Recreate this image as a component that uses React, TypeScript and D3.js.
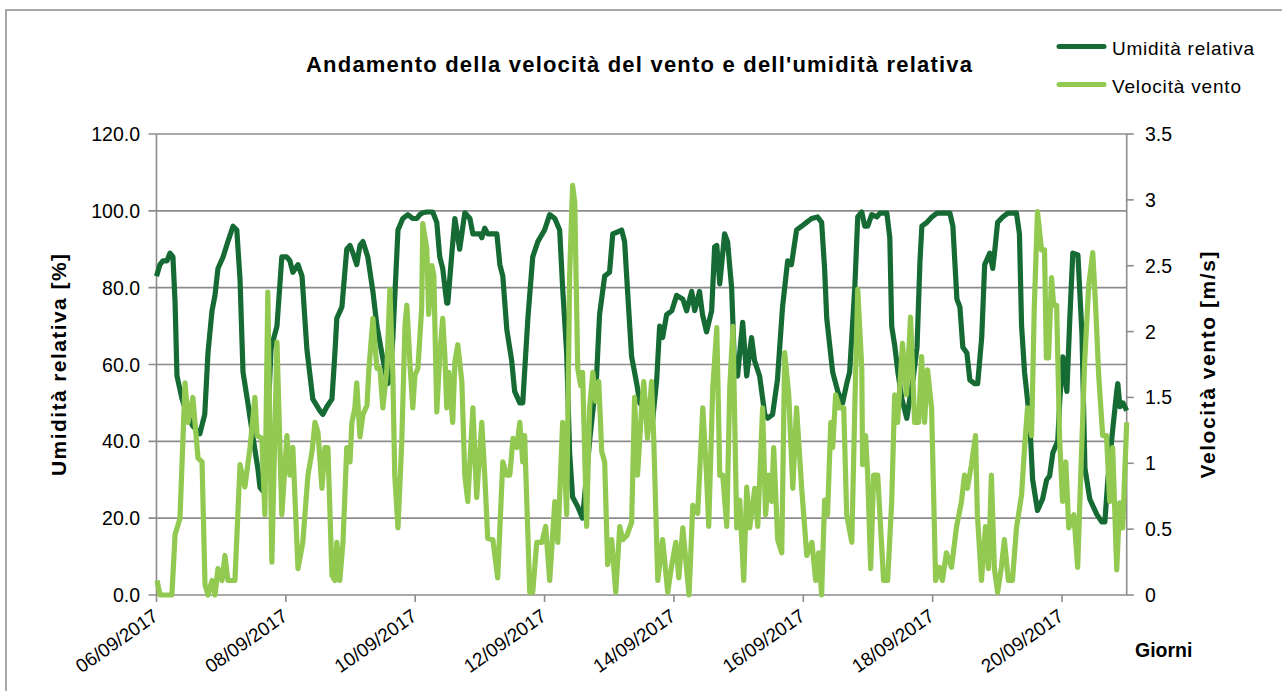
import React from 'react'
import * as d3 from 'd3'

// hours from 06/09/2017 00:00, value
const humidity: [number, number][] = [
  [0, 83], [1.3, 86], [2.4, 87], [3.9, 87], [5, 89], [6.1, 88], [6.9, 76], [7.6, 57], [9.5, 51], [11.3, 47],
  [13.5, 44], [16.1, 42], [17.9, 47], [19.1, 63], [20.6, 74], [21.7, 78], [22.8, 85], [24.7, 88], [26.5, 92], [28.4, 96],
  [29.8, 95], [31, 82], [32.1, 58], [33.9, 50], [35.8, 41], [37.6, 33], [38.4, 28], [39.5, 27], [41.3, 45], [42.5, 64],
  [43.2, 66], [44.7, 70], [46.5, 88], [48.3, 88], [49.5, 87], [50.6, 84], [52.5, 86], [54, 83], [55.8, 64], [58, 51],
  [60.6, 48], [61.7, 47], [63.2, 49], [65.1, 51], [66.2, 63], [66.9, 72], [68.8, 75], [70.6, 90], [71.8, 91], [72.9, 89],
  [74.3, 86], [75.5, 91], [76.6, 92], [78.4, 88], [80.3, 79], [81.8, 70], [83.6, 63], [84.7, 59], [85.8, 55], [86.6, 56],
  [87.7, 67], [89.6, 95], [91.4, 98], [93.3, 99], [95.1, 98], [96.6, 98], [97.7, 99], [98.8, 99.5], [100.3, 99.7], [102.5, 99.7],
  [104, 97], [105.1, 88], [106.2, 85], [107.7, 76], [108.1, 76], [109.6, 89], [110.7, 98], [112.5, 90], [114.4, 99.5], [116.3, 98],
  [117.4, 94], [120, 94], [120.7, 93], [121.8, 95.5], [122.9, 94], [126.3, 94], [127.4, 86], [128.5, 83], [130, 69], [131.8, 61],
  [132.9, 53], [134.8, 50], [135.9, 50], [137.8, 72], [139.6, 88], [141.5, 92], [144, 95], [145.9, 99], [147.8, 98], [149.6, 95],
  [150.7, 80], [152.2, 63], [153.3, 37], [154.4, 25.5], [156.3, 23], [158.1, 20], [160.7, 40], [163.3, 57], [164.4, 73], [166.3, 83],
  [168.1, 84], [169.3, 94], [171.1, 94.5], [172.6, 95], [173.7, 92], [174.8, 79], [176.3, 62], [178.2, 55], [179.3, 50], [184.1, 45.5],
  [185.6, 56], [186.7, 70], [187.8, 67], [189.3, 73], [191.2, 74], [193, 78], [195.3, 77], [196.7, 74], [198.6, 79], [199.7, 74],
  [201.5, 79], [202.6, 73], [204.1, 68.5], [206, 74], [207.1, 90.6], [207.9, 91], [209, 81], [210.8, 94], [211.9, 92], [213.4, 80],
  [214.5, 59], [215.6, 57], [217.5, 71], [219, 57], [220.8, 67], [221.9, 61], [223.8, 57], [225.7, 47], [226.8, 46], [228.6, 47],
  [230.4, 56], [232.3, 75], [234.2, 87], [235.6, 86], [237.5, 95], [239.4, 96], [241.2, 97], [243.1, 98], [245.3, 98.4], [246.8, 97],
  [247.9, 85], [248.7, 72], [250.9, 58], [252.8, 53], [254.6, 50], [256.1, 55], [257.2, 58], [259.1, 80], [260.2, 98.4], [261.7, 99.7],
  [262.8, 96], [263.9, 96], [265.4, 99], [267.3, 98.4], [268.4, 99.4], [271, 99.4], [272.1, 93], [272.8, 70], [274, 64.5], [275.1, 58],
  [276.6, 51], [278.4, 46], [279.5, 51], [280.7, 56], [282.2, 64.5], [283.3, 87], [284, 96], [285.9, 97], [287.7, 98.4], [289.6, 99.4],
  [294.4, 99.4], [295.5, 96], [297, 77], [298.1, 75], [299.2, 64.5], [300.7, 63], [301.8, 56], [303.6, 55], [304.7, 55], [306.2, 67],
  [307.3, 86], [309.2, 89], [310.3, 85], [311.1, 90], [312.1, 97], [314, 98.4], [315.9, 99.4], [319.1, 99.4], [320.2, 94], [321, 70],
  [322.1, 58], [324, 45.5], [325.1, 30], [326.9, 22], [328.8, 25], [330.3, 30], [331.4, 31], [332.6, 37], [334.4, 40], [335.2, 51],
  [336.3, 62], [337.8, 53], [338.9, 72], [340, 89], [341.9, 88.5], [343.4, 68], [344.5, 33], [346.3, 25], [348.9, 21], [350.8, 19],
  [351.9, 19], [353, 30], [354.8, 43], [356.3, 53], [356.7, 55], [357.5, 49], [358.6, 50], [360, 48]
]

const wind: [number, number][] = [
  [0.2, 0.11], [1.3, 0], [5.7, 0], [6.9, 0.46], [8.7, 0.58], [10.6, 1.61], [11.7, 1.31], [13.5, 1.5], [15.4, 1.04], [16.9, 1.01],
  [18, 0.08], [19.1, 0], [20.6, 0.11], [21.7, 0], [22.8, 0.2], [24.3, 0.11], [25.4, 0.3], [26.5, 0.11], [29.1, 0.11], [31, 0.99],
  [32.8, 0.82], [34.7, 1.12], [36.5, 1.5], [37.3, 1.21], [39.1, 1.19], [40.2, 0.61], [41.3, 2.3], [42.8, 0.25], [44.7, 1.92], [46.5, 0.61],
  [48.4, 1.21], [49.5, 0.91], [50.6, 1.12], [52.5, 0.2], [54.3, 0.4], [56.2, 0.91], [57.7, 1.09], [58.8, 1.31], [59.9, 1.24], [61.4, 0.81],
  [62.5, 1.12], [63.6, 1.12], [65.1, 0.15], [66.2, 0.11], [66.9, 0.4], [68, 0.11], [69.2, 0.4], [70.6, 1.12], [71.8, 1.01], [72.5, 1.31],
  [73.6, 1.42], [74.3, 1.61], [75.5, 1.2], [76.6, 1.37], [78.1, 1.44], [78.8, 1.71], [80.3, 2.1], [81.8, 1.72], [82.9, 1.72], [84, 1.42],
  [85.5, 1.72], [86.6, 2.32], [87.7, 1.67], [88.4, 0.91], [89.6, 0.51], [91, 1.16], [92.2, 2.05], [92.9, 2.2], [94, 1.77], [95.1, 1.42],
  [95.9, 1.67], [97, 1.72], [98.4, 2.18], [98.8, 2.82], [100.3, 2.63], [101, 2.13], [102.2, 2.5], [102.9, 2.43], [104, 1.39], [105.1, 1.82],
  [106.2, 2.1], [107, 1.82], [107.7, 1.42], [108.5, 1.69], [109.9, 1.31], [110.7, 1.77], [111.8, 1.9], [113.3, 1.62], [114.4, 0.91], [115.5, 0.71],
  [117.4, 1.42], [118.8, 0.74], [120.7, 1.31], [121.8, 0.91], [122.9, 0.43], [124.8, 0.42], [126.6, 0.13], [128.5, 1.01], [130, 0.91], [131.1, 0.91],
  [132.3, 1.19], [133.7, 1.12], [134.8, 1.31], [135.9, 1.01], [136.6, 1.21], [138.5, 0.02], [139.6, 0.02], [141.1, 0.4], [143, 0.4], [144.4, 0.52],
  [145.9, 0.11], [147.8, 0.71], [148.9, 0.4], [150.7, 1.31], [152.2, 0.61], [153.3, 2.43], [154.4, 3.11], [155.2, 2.98], [156.3, 1.72], [157.4, 1.59],
  [158.1, 1.69], [159.6, 0.52], [160.7, 1.42], [161.9, 1.69], [163, 1.47], [164.1, 1.62], [165.2, 1.09], [166.3, 1.01], [167.4, 0.23], [168.9, 0.42],
  [170.4, 0.02], [171.9, 0.52], [173, 0.42], [174.5, 0.45], [176.3, 0.55], [177.4, 1.5], [178.5, 0.91], [180, 1.42], [180.8, 1.62], [182.2, 1.19],
  [183.7, 1.62], [184.5, 1.19], [186, 0.11], [187.8, 0.42], [189.7, 0.02], [191.2, 0.23], [192.7, 0.4], [193.8, 0.13], [195.3, 0.51], [197.6, 0],
  [199, 0.68], [200.8, 0.62], [202.7, 1.42], [204.1, 0.91], [204.9, 0.52], [206.4, 1.57], [207.9, 2.03], [209, 0.91], [210.1, 0.91], [211.6, 0.52],
  [212.7, 1.57], [213.9, 2.04], [215.3, 0.51], [216.4, 0.72], [217.9, 0.11], [219, 0.82], [220.1, 0.51], [222, 0.81], [223.1, 0.52], [224.9, 1.42],
  [226, 0.61], [227.1, 0.91], [228.3, 0.71], [229, 1.12], [230.5, 0.42], [232, 0.32], [233.1, 1.84], [234.6, 1.52], [236.1, 0.81], [237.5, 1.42],
  [239.4, 0.81], [241.3, 0.3], [243.2, 0.4], [244.6, 0.11], [245.7, 0.32], [246.8, 0], [247.9, 0.72], [249, 0.61], [250.2, 1.31], [250.9, 1.12],
  [252, 1.52], [253.5, 1.42], [255, 1.42], [256.1, 0.61], [258, 0.4], [259.1, 1.42], [260.2, 2.32], [261.7, 1.72], [262, 0.99], [263.1, 1.21],
  [263.9, 0.91], [265, 0.2], [266.1, 0.91], [267.6, 0.91], [269.8, 0.11], [271.3, 0.11], [272.8, 0.71], [273.9, 1.52], [275, 1.31], [276.8, 1.91],
  [278.3, 1.52], [279.8, 2.11], [281.3, 1.31], [282.8, 1.31], [283.9, 1.81], [285, 1.31], [286.1, 1.71], [287.6, 1.42], [289.1, 0.11], [290.5, 0.21],
  [291.6, 0.11], [293.1, 0.32], [295, 0.21], [296.8, 0.51], [298.7, 0.71], [299.8, 0.91], [300.9, 0.81], [302.4, 0.99], [303.9, 1.21], [304.6, 0.61],
  [306.1, 0.11], [307.6, 0.52], [308.7, 0.2], [309.8, 0.91], [310.9, 0.2], [312.1, 0.02], [313.5, 0.21], [314.6, 0.42], [316.1, 0.11], [317.6, 0.11],
  [319.1, 0.51], [321, 0.76], [322.1, 1.12], [323.2, 1.42], [324.7, 1.21], [325.7, 2.18], [326.9, 2.91], [328.4, 2.62], [329.5, 2.62], [330.2, 1.8],
  [331, 1.8], [332.1, 2.41], [332.9, 2.2], [334, 2.2], [335.1, 1.19], [336.2, 0.71], [337.4, 1.01], [338.5, 0.51], [340.4, 0.61], [341.8, 0.21],
  [343.3, 1.12], [344.4, 1.77], [345.9, 2.35], [347.4, 2.6], [348.5, 2.18], [349.6, 1.67], [351.1, 1.21], [352.5, 1.21], [353.7, 0.71], [354.8, 1.12],
  [356.3, 0.19], [357.4, 0.7], [358.5, 0.51], [360, 1.31]
]

const humidityTicks = [0, 20, 40, 60, 80, 100, 120]
const windTicks = [0, 0.5, 1, 1.5, 2, 2.5, 3, 3.5]
const seriesNames = ['Umidità relativa', 'Velocità vento']

const START = new Date(2017, 8, 6)
const END = new Date(2017, 8, 21)
const DARK = '#166b34'
const LIGHT = '#92c950'
const GRID = '#8c8c8c'
const FONT = '"Liberation Sans", Arial, sans-serif'

const W = 1282
const H = 691
const left = 156.5
const right = 1126.7
const top = 134
const bottom = 595

const at = (h: number) => new Date(START.getTime() + h * 3600 * 1000)

export default function App () {
  const x = d3.scaleTime().domain([START, END]).range([left, right])
  const yL = d3.scaleLinear().domain([0, 120]).range([bottom, top])
  const yR = d3.scaleLinear().domain([0, 3.5]).range([bottom, top])

  const humLine = d3.line<[number, number]>()
    .x(d => x(at(d[0])))
    .y(d => yL(d[1]))
  const windLine = d3.line<[number, number]>()
    .x(d => x(at(d[0])))
    .y(d => yR(d[1]))

  const dateTicks = d3.timeDay.range(START, END, 2)
  const fmt = d3.timeFormat('%d/%m/%Y')

  return (
    <svg width={W} height={H} style={{ position: 'absolute', left: 0, top: 0, background: '#fff' }} fontFamily={FONT}>
      <rect x={6} y={10} width={W} height={H} fill="#fff" stroke={GRID} strokeWidth={1.5} />

      <text x={639} y={72} textAnchor="middle" fontSize={22} fontWeight="bold" textLength={666} lengthAdjust="spacing">
        Andamento della velocità del vento e dell'umidità relativa
      </text>

      {/* legend */}
      {seriesNames.map((name, i) => (
        <g key={name} transform={`translate(1059, ${46.5 + i * 38})`}>
          <line x1={0} x2={45} y1={0} y2={0} stroke={i === 0 ? DARK : LIGHT} strokeWidth={5} strokeLinecap="round" />
          <text x={53} y={8} fontSize={19} textLength={i === 0 ? 142 : 129} lengthAdjust="spacing">{name}</text>
        </g>
      ))}

      {/* grid + left axis */}
      {humidityTicks.map(t => (
        <g key={t}>
          <line x1={left - 8} x2={right} y1={yL(t)} y2={yL(t)} stroke={GRID} strokeWidth={1.6} />
          <text x={140} y={yL(t) + 7} textAnchor="end" fontSize={19.5}>{t.toFixed(1)}</text>
        </g>
      ))}
      <line x1={left} x2={left} y1={top} y2={bottom} stroke={GRID} strokeWidth={1.6} />

      {/* right axis */}
      <line x1={right} x2={right} y1={top} y2={bottom} stroke={GRID} strokeWidth={1.6} />
      {windTicks.map(t => (
        <g key={t}>
          <line x1={right} x2={right + 7} y1={yR(t)} y2={yR(t)} stroke={GRID} strokeWidth={1.6} />
          <text x={1145} y={yR(t) + 7} fontSize={19.5}>{String(t)}</text>
        </g>
      ))}

      {/* x axis */}
      {dateTicks.map(d => (
        <g key={+d}>
          <line x1={x(d)} x2={x(d)} y1={bottom} y2={bottom + 7} stroke={GRID} strokeWidth={1.6} />
          <text transform={`translate(${x(d) + 3}, ${bottom + 24}) rotate(-35)`} textAnchor="end" fontSize={19}>{fmt(d)}</text>
        </g>
      ))}

      <path d={humLine(humidity) ?? ''} fill="none" stroke={DARK} strokeWidth={5.2} strokeLinejoin="round" />
      <path d={windLine(wind) ?? ''} fill="none" stroke={LIGHT} strokeWidth={5.2} strokeLinejoin="round" />

      <text transform="translate(66, 365) rotate(-90)" textAnchor="middle" fontSize={21} fontWeight="bold" textLength={222} lengthAdjust="spacing">
        Umidità relativa [%]
      </text>
      <text transform="translate(1215, 365) rotate(-90)" textAnchor="middle" fontSize={21} fontWeight="bold" textLength={227} lengthAdjust="spacing">
        Velocità vento [m/s]
      </text>
      <text x={1135} y={657} fontSize={19.5} fontWeight="bold">Giorni</text>
    </svg>
  )
}
